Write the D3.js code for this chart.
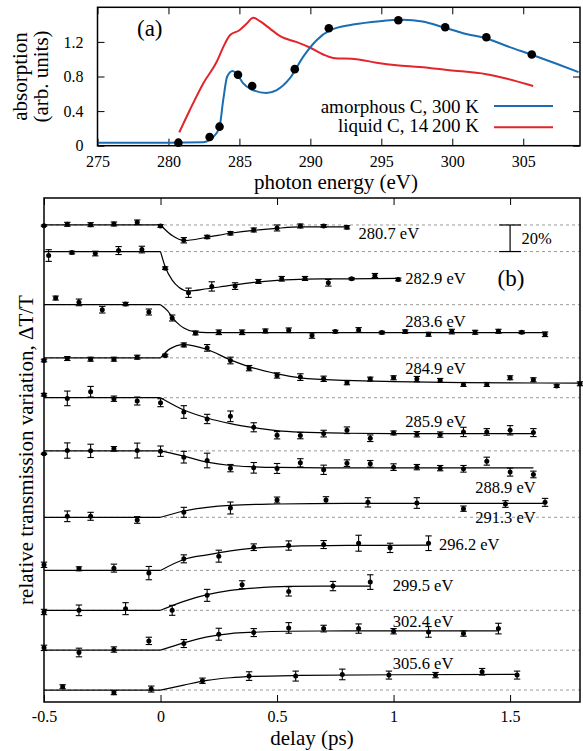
<!DOCTYPE html>
<html>
<head>
<meta charset="utf-8">
<script src="https://cdn.jsdelivr.net/npm/d3@7"></script>
<style>
  body { margin: 0; background: #fff; }
</style>
</head>
<body>
<div id="chart"></div>
<script>
// ---- panel (a): absorption spectra ----
var amorphousE = [275, 280, 282.45, 283.15, 283.6, 283.86, 284.14, 284.52, 284.8, 285.27, 285.86, 286.9,
  287.6, 288.56, 289.5, 290.44, 291.4, 293.0, 294.9, 296.5, 297.9, 299.35, 300.76, 302.4, 304.05, 305.7, 307.3, 308.9];
var amorphousA = [0.035, 0.035, 0.04, 0.1, 0.22, 0.53, 0.8, 0.865, 0.835, 0.72, 0.65, 0.61,
  0.64, 0.78, 1.03, 1.22, 1.335, 1.40, 1.44, 1.455, 1.435, 1.37, 1.30, 1.24, 1.14, 1.046, 0.95, 0.85];
var liquidE = [280.76, 281.5, 282.45, 283.4, 283.86, 284.33, 285.0, 285.5, 285.97, 286.44, 287.15, 287.97,
  289.0, 289.96, 290.9, 291.6, 293.25, 294.66, 296.07, 297.7, 299.8, 302.4, 303.8, 305.7];
var liquidA = [0.154, 0.41, 0.72, 0.97, 1.14, 1.277, 1.335, 1.41, 1.48, 1.44, 1.354, 1.257,
  1.2, 1.135, 1.054, 1.015, 1.0, 0.96, 0.93, 0.91, 0.873, 0.827, 0.777, 0.69];
var probeE = [280.7, 282.9, 283.6, 284.9, 285.9, 288.9, 291.3, 296.2, 299.5, 302.4, 305.6];
var probeA = [0.035, 0.10, 0.22, 0.82, 0.69, 0.885, 1.357, 1.45, 1.37, 1.254, 1.054];
var xTicksA = [275, 280, 285, 290, 295, 300, 305];
var yTicksA = [0, 0.4, 0.8, 1.2];

// ---- panel (b): transmission traces (values in %) ----
var traceLabels = ['280.7 eV', '282.9 eV', '283.6 eV', '284.9 eV', '285.9 eV', '288.9 eV',
  '291.3 eV', '296.2 eV', '299.5 eV', '302.4 eV', '305.6 eV'];
var traceShift = [359, 339, 299, 259, 229, 189, 139, 99, 69, 39, 9];
var delays = [
  [-0.5, -0.4, -0.3, -0.2, -0.1, 0, 0.1, 0.2, 0.3, 0.4, 0.5, 0.6, 0.7, 0.8],
  [-0.48, -0.38, -0.28, -0.18, -0.08, 0.02, 0.12, 0.22, 0.32, 0.42, 0.52, 0.62, 0.72, 0.82, 0.92, 1.02],
  [-0.45, -0.35, -0.25, -0.15, -0.05, 0.05, 0.15, 0.25, 0.35, 0.45, 0.55, 0.65, 0.75, 0.85, 0.95, 1.05,
    1.15, 1.25, 1.35, 1.45, 1.55, 1.65],
  [-0.5, -0.4, -0.3, -0.2, -0.1, 0.02, 0.1, 0.2, 0.3, 0.38, 0.5, 0.6, 0.7, 0.8, 0.9, 1.0, 1.1, 1.2,
    1.3, 1.4, 1.5, 1.6, 1.7, 1.8],
  [-0.5, -0.4, -0.3, -0.2, -0.1, 0, 0.1, 0.2, 0.3, 0.4, 0.5, 0.6, 0.7, 0.8, 0.9, 1.0, 1.1, 1.2, 1.3, 1.4, 1.5, 1.6],
  [-0.5, -0.4, -0.3, -0.2, -0.1, 0, 0.1, 0.2, 0.3, 0.4, 0.5, 0.6, 0.7, 0.8, 0.9, 1.0, 1.1, 1.2, 1.3, 1.4, 1.5, 1.6],
  [-0.4, -0.3, -0.1, 0.1, 0.3, 0.5, 0.71, 0.89, 1.1, 1.3, 1.48, 1.65],
  [-0.5, -0.35, -0.2, -0.05, 0.1, 0.25, 0.4, 0.55, 0.7, 0.85, 0.985, 1.15],
  [-0.5, -0.35, -0.15, 0.05, 0.2, 0.35, 0.55, 0.74, 0.9],
  [-0.5, -0.35, -0.2, -0.05, 0.1, 0.25, 0.4, 0.55, 0.7, 0.85, 1.0, 1.15, 1.3, 1.45],
  [-0.42, -0.2, -0.04, 0.18, 0.38, 0.58, 0.78, 0.98, 1.18, 1.38, 1.53]
];
var signal = [
  [-0.5, 0.5, 0.25, 0.75, 2, -0.75, -11.5, -9, -6.25, -3.75, -2.25, -0.75, -0.75, -1.75],
  [-3, -0.75, -1.5, 0.75, 1.5, -12.5, -31, -26.25, -26, -22.5, -20.5, -20.25, -23.5, -20.5, -18, -21],
  [5, 1.75, -3.75, 0.5, -5.5, -10, -21.25, -20.75, -20.75, -19.75, -19.25, -23.25, -20.25, -19, -21, -20.25,
    -22.25, -20.25, -20.75, -20, -20.75, -22.25],
  [-2, -0.5, -1, -1, 0.5, 1.75, 9.75, 7.5, -2, -7.75, -13.25, -14.5, -15.75, -18.75, -16, -15, -16, -17,
    -20, -20, -15, -16.5, -21.25, -19.5],
  [2.25, -0.5, 4.5, -0.75, -2.5, -3.75, -10.75, -16, -14, -22.25, -28.25, -28.5, -27, -24.5, -30.5, -26.5,
    -27.5, -27.75, -25.75, -25.75, -24.5, -26.25],
  [-2.25, 0.25, 0, 1.5, 0.25, -0.25, -4.75, -7.25, -13, -12.75, -13.25, -9, -14.25, -9.25, -9.75, -12.25,
    -12.25, -13, -13.5, -7.75, -16, -17.75],
  [0.75, 0.75, -2, 3.75, 7, 13, 13, 11.25, 10.75, 6.5, 10, 11.25],
  [4.25, 1.25, 1.75, -2, 8.75, 10.75, 17.5, 18.75, 19.5, 20.5, 17, 20.5],
  [-1.25, 0, 1.25, 0, 11.25, 19.25, 14.25, 18.25, 21.25],
  [1.75, -1.75, 0.5, 7, 5, 12, 13.25, 16.75, 16.25, 16.25, 14.25, 13.75, 12.5, 16.25],
  [2.5, -2, 0.75, 7, 10.5, 10.5, 11.75, 11.25, 11.25, 13.75, 11.25]
];
var errors = [
  [0.5, 1.5, 1.5, 1.5, 1.75, 1, 2, 1.25, 1.25, 1.5, 2.25, 1.5, 1, 1.25],
  [4.4, 1, 1.75, 3, 2.5, 1, 3.5, 3.5, 2.5, 1.5, 1.75, 1.5, 2.5, 0.75, 1.5, 1],
  [1.5, 2.5, 2.5, 1.25, 2.25, 2.25, 1.5, 1.75, 1.75, 1.5, 1.75, 2, 1, 1.75, 1, 1.25, 1.5, 1.75, 1.5, 1.5, 1, 1.75],
  [1, 1.5, 1.5, 1.5, 1.5, 1, 1.5, 2.5, 2.5, 2, 2, 2.5, 2, 1.5, 1.5, 1.5, 2, 1.5, 1.5, 1.5, 1.5, 1.5, 1, 1.5],
  [1, 5.5, 4, 2, 3, 3, 4.75, 3.5, 4, 3.4, 2.75, 2.4, 2.5, 2.5, 2.5, 1.5, 2, 2, 3.5, 2.5, 3.5, 3],
  [0.5, 5.75, 5, 1.75, 5.6, 3.9, 4.4, 5.5, 2.75, 4, 3.75, 3.1, 3.5, 2.5, 2.5, 2.5, 2, 2, 2.5, 3, 3, 2.5],
  [4, 3, 2.5, 3.75, 4.5, 2.25, 2.5, 3.5, 4, 2, 2.5, 3],
  [2, 1.5, 3, 5, 3, 4.5, 2.5, 3.5, 3, 6, 3.5, 5.5],
  [2, 4, 4.5, 3.75, 4.5, 3, 3.5, 3.5, 5.5],
  [2, 3.25, 2, 2.75, 3, 4.5, 3, 4, 2.5, 3.5, 2, 4, 2, 4],
  [1.5, 1.5, 2.25, 2, 3.25, 3.75, 4, 3, 2, 2.5, 3]
];
var fitDelay = [
  [-0.5, 0, 0.05, 0.1, 0.2, 0.3, 0.4, 0.5, 0.6, 0.7, 0.8],
  [-0.5, 0, 0.02, 0.05, 0.08, 0.12, 0.2, 0.3, 0.4, 0.5, 0.62, 0.8, 1.02],
  [-0.5, 0, 0.03, 0.05, 0.08, 0.1, 0.15, 0.2, 0.4, 1.66],
  [-0.5, 0, 0.04, 0.1, 0.2, 0.3, 0.4, 0.5, 0.6, 0.8, 1.0, 1.3, 1.8],
  [-0.5, 0, 0.1, 0.2, 0.3, 0.4, 0.5, 0.6, 0.8, 1.0, 1.6],
  [-0.5, 0, 0.1, 0.2, 0.3, 0.4, 0.5, 0.7, 1.6],
  [-0.5, 0, 0.1, 0.2, 0.3, 0.5, 0.8, 1.65],
  [-0.5, 0, 0.1, 0.2, 0.3, 0.4, 0.55, 0.8, 1.15],
  [-0.5, 0, 0.1, 0.2, 0.3, 0.4, 0.55, 0.9],
  [-0.5, 0, 0.1, 0.2, 0.3, 0.4, 0.55, 0.8, 1.45],
  [-0.5, 0, 0.1, 0.2, 0.3, 0.4, 0.6, 1.0, 1.53]
];
var fitSignal = [
  [0, 0, -8, -11.75, -9.25, -6.25, -4, -2.5, -1.5, -1.4, -1.4],
  [0, 0, -11.5, -21.5, -27, -29.75, -28, -25.5, -23.25, -21.75, -20.75, -20.5, -20.25],
  [0, 0, -4.5, -9.5, -15, -17.5, -20.5, -21, -21, -21],
  [0, 0, 6.75, 10, 6.25, -1.5, -7.75, -12, -15, -17, -17.9, -18.6, -19],
  [0, 0, -9.25, -15.25, -19.5, -22.5, -24.75, -25.9, -26.75, -27, -27],
  [0, 0, -4, -8.5, -11, -12, -12.5, -12.75, -12.75],
  [0, 0, 4.75, 7.5, 9, 10, 10.5, 10.5],
  [0, 0, 8.25, 11.75, 14.75, 16.75, 18.1, 18.8, 19],
  [0, 0, 6.75, 11.75, 15, 16.75, 18, 18.25],
  [0, 0, 5.5, 10, 12.5, 13.5, 14.25, 14.5, 14.5],
  [0, 0, 3.75, 7.25, 9.25, 10.25, 11, 11.5, 11.75]
];
var xTicksB = [-0.5, 0, 0.5, 1, 1.5];
var scaleBar = [339, 359];

// label anchors in data units (delay, % from baseline)
var labelAt = [[0.85, -6.2], [1.05, -20.4], [1.05, -12.7], [1.05, -8.2], [1.05, -18.3], [1.35, -27.3],
  [1.35, 0], [1.195, 19.5], [0.997, 18.7], [0.997, 21.2], [0.997, 20]];

var width = 583, height = 751;
var serif = '"Liberation Serif", "Times New Roman", Times, serif';
var svg = d3.select('#chart').append('svg')
  .attr('width', width)
  .attr('height', height)
  .attr('font-family', serif);

var blue = '#1a6db3', red = '#e2242b';

// ================= panel (a) =================
var xA = d3.scaleLinear().domain([275, 309]).range([97.5, 580]);
var yA = d3.scaleLinear().domain([0, 1.6]).range([145.7, 7.3]);

var styleAxis = function(g, size) {
  g.select('.domain').remove();
  g.attr('font-size', size).attr('font-family', serif);
  g.selectAll('line').attr('stroke-width', 1);
};

svg.append('g').attr('transform', 'translate(0,' + yA(0) + ')')
  .call(d3.axisBottom(xA).tickValues(xTicksA).tickSizeInner(-7).tickSizeOuter(0).tickPadding(10))
  .call(styleAxis, 16);
svg.append('g').attr('transform', 'translate(0,' + yA(1.6) + ')')
  .call(d3.axisTop(xA).tickValues(xTicksA).tickSizeInner(-7).tickSizeOuter(0).tickFormat(''))
  .call(styleAxis, 16);
svg.append('g').attr('transform', 'translate(' + xA(275) + ',0)')
  .call(d3.axisLeft(yA).tickValues(yTicksA).tickSizeInner(-7).tickSizeOuter(0).tickPadding(14)
    .tickFormat(function(d) { return d === 0 ? '0' : d3.format('.1f')(d); }))
  .call(styleAxis, 16);
svg.append('g').attr('transform', 'translate(' + xA(309) + ',0)')
  .call(d3.axisRight(yA).tickValues(yTicksA).tickSizeInner(-7).tickSizeOuter(0).tickFormat(''))
  .call(styleAxis, 16);

var lineA = d3.line()
  .x(function(d) { return xA(d[0]); })
  .y(function(d) { return yA(d[1]); })
  .curve(d3.curveMonotoneX);

svg.append('path')
  .datum(d3.zip(liquidE, liquidA))
  .attr('d', lineA)
  .attr('fill', 'none')
  .attr('stroke', red)
  .attr('stroke-width', 2);
svg.append('path')
  .datum(d3.zip(amorphousE, amorphousA))
  .attr('d', lineA)
  .attr('fill', 'none')
  .attr('stroke', blue)
  .attr('stroke-width', 2);

svg.selectAll('circle.probe')
  .data(d3.zip(probeE, probeA))
  .enter().append('circle')
  .attr('class', 'probe')
  .attr('cx', function(d) { return xA(d[0]); })
  .attr('cy', function(d) { return yA(d[1]); })
  .attr('r', 4.3)
  .attr('fill', '#000');

svg.append('rect')
  .attr('x', xA(275)).attr('y', yA(1.6))
  .attr('width', xA(309) - xA(275)).attr('height', yA(0) - yA(1.6))
  .attr('fill', 'none').attr('stroke', '#000').attr('stroke-width', 1.5);

svg.append('text').attr('x', 137).attr('y', 36).attr('font-size', 23).text('(a)');

var legend = [['amorphous C, 300 K', blue, 112.5, 106], ['liquid C, 14\u2009200 K', red, 132.3, 127.3]];
legend.forEach(function(l) {
  svg.append('text').attr('x', 479).attr('y', l[2]).attr('font-size', 19)
    .attr('text-anchor', 'end').text(l[0]);
  svg.append('line').attr('x1', 494).attr('x2', 553).attr('y1', l[3]).attr('y2', l[3])
    .attr('stroke', l[1]).attr('stroke-width', 2);
});

svg.append('text').attr('x', xA(291.8)).attr('y', 189).attr('font-size', 21)
  .attr('text-anchor', 'middle').text('photon energy (eV)');
svg.append('text').attr('transform', 'translate(27,' + yA(0.8) + ') rotate(-90)')
  .attr('font-size', 21).attr('text-anchor', 'middle').text('absorption');
svg.append('text').attr('transform', 'translate(47.5,' + yA(0.8) + ') rotate(-90)')
  .attr('font-size', 21).attr('text-anchor', 'middle').text('(arb. units)');

// ================= panel (b) =================
var xB = d3.scaleLinear().domain([-0.5, 1.8]).range([44, 580]);
var yB = d3.scaleLinear().domain([0, 379.3]).range([702, 198]);

svg.append('g').attr('transform', 'translate(0,' + yB(0) + ')')
  .call(d3.axisBottom(xB).tickValues(xTicksB).tickSizeInner(-7).tickSizeOuter(0).tickPadding(9)
    .tickFormat(function(d) { return String(d); }))
  .call(styleAxis, 16);
svg.append('g').attr('transform', 'translate(0,' + yB(379.3) + ')')
  .call(d3.axisTop(xB).tickValues(xTicksB).tickSizeInner(-7).tickSizeOuter(0).tickFormat(''))
  .call(styleAxis, 16);

// dotted baselines
svg.selectAll('line.base')
  .data(traceShift)
  .enter().append('line')
  .attr('class', 'base')
  .attr('x1', xB(-0.5)).attr('x2', xB(1.8))
  .attr('y1', function(d) { return yB(d); })
  .attr('y2', function(d) { return yB(d); })
  .attr('stroke', '#9a9a9a')
  .attr('stroke-width', 1)
  .attr('stroke-dasharray', '3,3');

traceLabels.forEach(function(name, i) {
  var shift = traceShift[i];
  var fit = d3.zip(fitDelay[i], fitSignal[i]);
  var pre = fit.filter(function(d) { return d[0] <= 0; });
  var post = fit.filter(function(d) { return d[0] >= 0; });
  var lineB = d3.line()
    .x(function(d) { return xB(d[0]); })
    .y(function(d) { return yB(shift + d[1]); });

  var g = svg.append('g');
  g.append('path').datum(pre).attr('d', lineB.curve(d3.curveLinear))
    .attr('fill', 'none').attr('stroke', '#000').attr('stroke-width', 1.2);
  g.append('path').datum(post).attr('d', lineB.curve(d3.curveMonotoneX))
    .attr('fill', 'none').attr('stroke', '#000').attr('stroke-width', 1.2);

  var pts = d3.zip(delays[i], signal[i], errors[i]);
  var bars = g.selectAll('g.pt').data(pts).enter().append('g').attr('class', 'pt');
  bars.append('line')
    .attr('x1', function(d) { return xB(d[0]); })
    .attr('x2', function(d) { return xB(d[0]); })
    .attr('y1', function(d) { return yB(shift + d[1] - d[2]); })
    .attr('y2', function(d) { return yB(shift + d[1] + d[2]); })
    .attr('stroke', '#000').attr('stroke-width', 1.1);
  [-1, 1].forEach(function(s) {
    bars.append('line')
      .attr('x1', function(d) { return xB(d[0]) - 3.2; })
      .attr('x2', function(d) { return xB(d[0]) + 3.2; })
      .attr('y1', function(d) { return yB(shift + d[1] + s * d[2]); })
      .attr('y2', function(d) { return yB(shift + d[1] + s * d[2]); })
      .attr('stroke', '#000').attr('stroke-width', 1.1);
  });
  bars.append('circle')
    .attr('cx', function(d) { return xB(d[0]); })
    .attr('cy', function(d) { return yB(shift + d[1]); })
    .attr('r', 2.5)
    .attr('fill', '#000');

  g.append('text')
    .attr('x', xB(labelAt[i][0]))
    .attr('y', yB(shift + labelAt[i][1]))
    .attr('dy', '0.33em')
    .attr('font-size', 16.5)
    .text(name);
});

// 20 % scale bar
var sbX = xB(1.5);
svg.append('line').attr('x1', sbX).attr('x2', sbX)
  .attr('y1', yB(scaleBar[1])).attr('y2', yB(scaleBar[0]))
  .attr('stroke', '#000').attr('stroke-width', 1.2);
scaleBar.forEach(function(v) {
  svg.append('line').attr('x1', sbX - 11).attr('x2', sbX + 11)
    .attr('y1', yB(v)).attr('y2', yB(v))
    .attr('stroke', '#000').attr('stroke-width', 1.2);
});
svg.append('text').attr('x', sbX + 11.5).attr('y', yB((scaleBar[0] + scaleBar[1]) / 2))
  .attr('dy', '0.33em').attr('font-size', 16.5).text('20%');

svg.append('text').attr('x', 497.5).attr('y', 286).attr('font-size', 23).text('(b)');

svg.append('rect')
  .attr('x', xB(-0.5)).attr('y', yB(379.3))
  .attr('width', xB(1.8) - xB(-0.5)).attr('height', yB(0) - yB(379.3))
  .attr('fill', 'none').attr('stroke', '#000').attr('stroke-width', 1.5);

svg.append('text').attr('x', xB(0.65)).attr('y', 744.5).attr('font-size', 21)
  .attr('text-anchor', 'middle').text('delay (ps)');
svg.append('text').attr('transform', 'translate(32.5,' + yB(379.3 / 2) + ') rotate(-90)')
  .attr('font-size', 21).attr('text-anchor', 'middle')
  .text('relative transmission variation, \u0394T/T');
</script>
</body>
</html>
